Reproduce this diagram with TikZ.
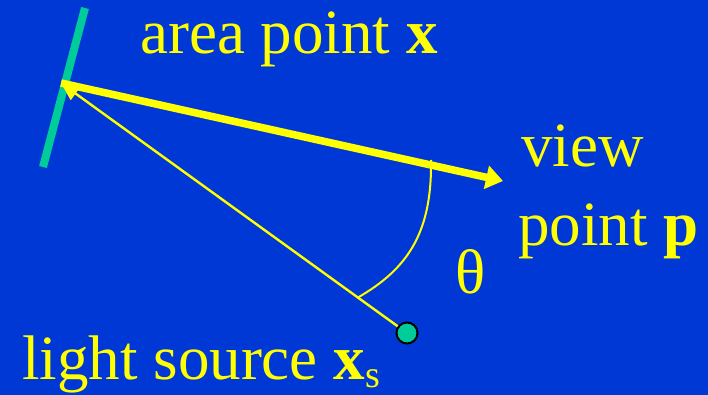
\documentclass[tikz,border=0pt]{standalone}
\usepackage{fontspec}
\setmainfont{Liberation Serif}
\usepackage{tikz}
\usetikzlibrary{arrows.meta, positioning, calc}

\definecolor{slideblue}{RGB}{0,56,214}
\definecolor{surfgreen}{RGB}{0,204,153}
\definecolor{rayyellow}{RGB}{255,255,0}

\begin{document}
\begin{tikzpicture}[
        x=1pt, y=-1pt,
        label/.style={text=rayyellow, inner sep=0pt, anchor=base west, font=\fontsize{63}{76}\selectfont},
        viewray/.style={rayyellow, line width=7.5pt, -{Triangle[length=17pt, width=23pt]}},
        lightray/.style={rayyellow, line width=2.4pt, -{Triangle[length=18pt, width=16pt]}},
        source/.style={circle, draw=black, line width=2pt, fill=surfgreen, minimum size=21pt, inner sep=0pt}
    ]

    % Background
    \fill[slideblue] (0,0) rectangle (708,395);
    \useasboundingbox (0,0) rectangle (708,395);

    % Surface patch
    \coordinate (patchtop) at (85,8);
    \coordinate (patchbot) at (43,167);
    \draw[surfgreen, line width=8pt] (patchtop) -- (patchbot);

    % Points
    \coordinate (area) at (61,83);
    \coordinate (view) at (503,181);
    \coordinate (srcpt) at (407,333);

    % Rays
    \draw[viewray] (area) -- (view);
    \draw[lightray] (srcpt) -- (area);
    \node[source] (src) at (srcpt) {};

    % Angle
    \draw[rayyellow, line width=2pt] (431,160) .. controls (432,230) and (410,268) .. (357,298);

    % Labels
    \node[label] (arealbl) at (140,54) {area point \textbf{x}};
    \node[label] (viewlbl) at (521,167) {view};
    \node[label] (pointlbl) at (518,245) {point \textbf{p}};
    \node[label] (thetalbl) at (455,293) {θ};
    \node[label] (lightlbl) at (22,379) {light source \textbf{x}\raisebox{-8pt}{\fontsize{38}{38}\selectfont s}};

\end{tikzpicture}
\end{document}
